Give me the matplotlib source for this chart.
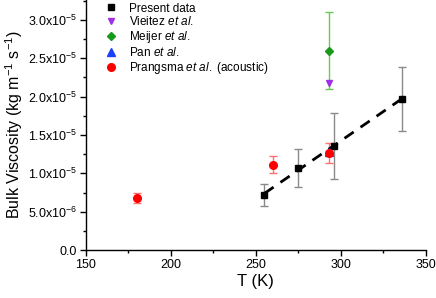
import numpy as np
import matplotlib
matplotlib.use("Agg")
import matplotlib.pyplot as plt
from matplotlib.ticker import MultipleLocator, FuncFormatter

plt.rcParams['font.family'] = ['Liberation Sans', 'DejaVu Sans']
plt.rcParams['mathtext.fontset'] = 'custom'
plt.rcParams['mathtext.rm'] = 'Liberation Sans'
plt.rcParams['mathtext.it'] = 'Liberation Sans:italic'

# Present data
present_T = [255, 275, 296, 336]
present_v = [7.2e-6, 1.07e-5, 1.36e-5, 1.97e-5]
present_err = [1.4e-6, 2.45e-6, 4.3e-6, 4.2e-6]

# Vieitez et al.
vieitez_T = [293]
vieitez_v = [2.18e-5]

# Meijer et al.
meijer_T = [293]
meijer_v = [2.6e-5]
meijer_err = [5.0e-6]

# Pan et al.
pan_T = [293]
pan_v = [1.28e-5]

# Prangsma et al. (acoustic)
prangsma_T = [180, 260, 293]
prangsma_v = [6.8e-6, 1.11e-5, 1.27e-5]
prangsma_err = [7e-7, 1.1e-6, 1.3e-6]

fig = plt.figure(figsize=(4.36, 2.98), dpi=100)
ax = fig.add_axes([0.197, 0.161, 0.780, 0.839])

# fit line through present data
coef = np.polyfit(present_T, present_v, 1)
xf = np.array([present_T[0], present_T[-1]])
ax.plot(xf, np.polyval(coef, xf), color='black', lw=2.0, ls=(0, (4, 3)), zorder=2)

ax.errorbar(present_T, present_v, yerr=present_err, fmt='none', ecolor='#8a8a8a',
            elinewidth=1.0, capsize=3, capthick=1.0, zorder=1)
ax.errorbar(meijer_T, meijer_v, yerr=meijer_err, fmt='none', ecolor='#66cc55',
            elinewidth=1.0, capsize=3, capthick=1.0, zorder=1)
ax.errorbar(prangsma_T, prangsma_v, yerr=prangsma_err, fmt='none', ecolor='#ff7070',
            elinewidth=1.0, capsize=3, capthick=1.0, zorder=1)

ax.plot(present_T, present_v, 's', color='black', ms=5, ls='none',
        label='Present data', zorder=3)
ax.plot(vieitez_T, vieitez_v, 'v', color='#a030e8', ms=5, ls='none',
        label=r'Vieitez $\mathit{et\ al.}$', zorder=3)
ax.plot(meijer_T, meijer_v, 'D', color='#1a9a1a', ms=4.5, ls='none',
        label=r'Meijer $\mathit{et\ al.}$', zorder=3)
ax.plot(pan_T, pan_v, '^', color='#1a40ff', ms=5.5, ls='none',
        label=r'Pan $\mathit{et\ al.}$', zorder=3)
ax.plot(prangsma_T, prangsma_v, 'o', color='#ff0000', ms=5.5, ls='none',
        label=r'Prangsma $\mathit{et\ al.}$ (acoustic)', zorder=3)

ax.set_xlim(150, 350)
ax.set_ylim(0, 3.26e-5)
ax.xaxis.set_major_locator(MultipleLocator(50))
ax.xaxis.set_minor_locator(MultipleLocator(25))
ax.yaxis.set_major_locator(MultipleLocator(5e-6))
ax.yaxis.set_minor_locator(MultipleLocator(2.5e-6))

def yfmt(v, pos):
    if abs(v) < 1e-12:
        return '0.0'
    e = int(np.floor(np.log10(abs(v)) + 1e-9))
    m = v / 10**e
    return r'%.1fx10$^{%d}$' % (m, e)

ax.yaxis.set_major_formatter(FuncFormatter(yfmt))

for s in ['top', 'right']:
    ax.spines[s].set_visible(False)
for s in ['left', 'bottom']:
    ax.spines[s].set_linewidth(1.0)

ax.tick_params(which='major', direction='out', length=4, width=1, labelsize=9, pad=2.5)
ax.tick_params(which='minor', direction='out', length=2.5, width=1)

ax.set_xlabel('T (K)', fontsize=12, labelpad=2)
ax.set_ylabel(r'Bulk Viscosity (kg m$^{-1}$ s$^{-1}$)', fontsize=11.5, labelpad=2)

ax.legend(loc='upper left', bbox_to_anchor=(0.054, 0.99), frameon=False, fontsize=8.5,
          handlelength=1.2, handletextpad=0.9, labelspacing=0.08, borderaxespad=0.0,
          borderpad=0.0)

fig.savefig('out.png', dpi=100)
